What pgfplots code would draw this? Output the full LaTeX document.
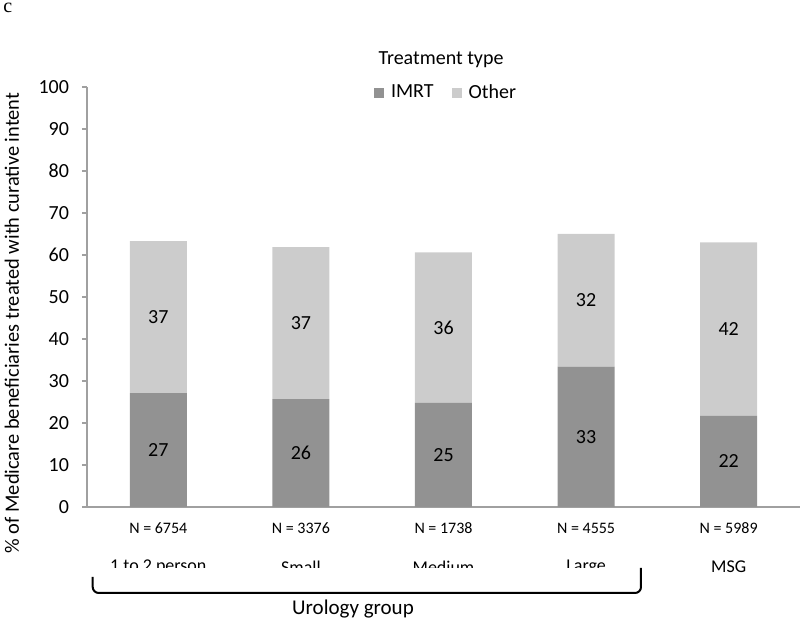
\documentclass[border=0pt]{standalone}
\usepackage{pgfplots}
\pgfplotsset{compat=1.18}
\usepackage{fontspec}
\setmainfont{Carlito}
\newfontfamily\seriffont{Liberation Serif}
\definecolor{imrt}{RGB}{146,146,146}
\definecolor{other}{RGB}{204,204,204}
\definecolor{axisgray}{RGB}{160,160,160}
\begin{document}
\begin{tikzpicture}
\useasboundingbox (-43.5pt,-56pt) rectangle (356.5pt,253.5pt);
\begin{axis}[
  at={(0pt,0pt)}, anchor=south west,
  scale only axis, width=356.5pt, height=210pt,
  ymin=0, ymax=100, xmin=-0.5, xmax=4.5,
  ybar stacked, bar width=28.5pt,
  axis x line*=bottom, axis y line*=left,
  axis line style={draw=axisgray, line width=0.6pt},
  ytick={0,10,...,100},
  ytick style={draw=axisgray, line width=0.6pt},
  tick align=outside, major tick length=2.5pt,
  yticklabel style={font=\fontsize{10}{12}\selectfont, xshift=-3pt},
  /pgf/number format/assume math mode=true,
  xtick={0,1,2,3,4},
  xtick style={draw=none},
  xticklabels={N = 6754, N = 3376, N = 1738, N = 4555, N = 5989},
  xticklabel style={font=\fontsize{8}{9}\selectfont, anchor=center, yshift=-8pt},
  extra x ticks={0,1,2,3,4},
  extra x tick labels={1 to 2 person, Small, Medium, Large, MSG},
  extra x tick style={xtick style={draw=none}, xticklabel style={font=\fontsize{9}{10}\selectfont, anchor=center, yshift=-19.5pt}},
  ylabel={\% of Medicare beneficiaries treated with curative intent},
  every axis y label/.style={at={(rel axis cs:-0.1052,0.438)}, rotate=90, anchor=center, font=\fontsize{10.2}{12}\selectfont},
  legend style={at={(rel axis cs:0.505,0.986)}, anchor=center, legend columns=2, draw=none, fill=none,
    font=\fontsize{10}{12}\selectfont,
    /tikz/every even column/.append style={column sep=7pt}},
  legend image code/.code={\fill[#1] (0pt,-2.5pt) rectangle (5pt,2.5pt);},
  clip=false,
]
\addplot[fill=imrt, draw=none] coordinates {(0,27.1) (1,25.7) (2,24.8) (3,33.4) (4,21.7)};
\addlegendentry{\hspace{1.5pt}IMRT}
\addplot[fill=other, draw=none] coordinates {(0,36.2) (1,36.2) (2,35.8) (3,31.6) (4,41.3)};
\addlegendentry{\hspace{1.5pt}Other}
\node[font=\fontsize{10}{12}\selectfont] at (rel axis cs:0.4965,1.064) {Treatment type};
\end{axis}
\begin{axis}[
  at={(0pt,0pt)}, anchor=south west,
  scale only axis, width=356.5pt, height=210pt,
  ymin=0, ymax=100, xmin=-0.5, xmax=4.5,
  hide axis,
]
\addplot[only marks, mark=none, nodes near coords, point meta=explicit symbolic,
  every node near coord/.style={anchor=center, font=\fontsize{10}{12}\selectfont}]
  coordinates {(0,13.55)[27] (1,12.85)[26] (2,12.4)[25] (3,16.7)[33] (4,10.85)[22]
               (0,45.2)[37] (1,43.8)[37] (2,42.7)[36] (3,49.2)[32] (4,42.35)[42]};
\end{axis}
\fill[white] (6.5pt,-30.5pt) rectangle (274pt,-40pt);
\draw[line width=1pt, rounded corners=3pt] (2.85pt,-35pt) -- (2.85pt,-43pt) -- (277pt,-43pt) -- (277pt,-30.5pt);
\node[font=\fontsize{10.5}{12}\selectfont] at (133pt,-51pt) {Urology group};
\node[anchor=base west, font=\seriffont\fontsize{10}{12}\selectfont, inner sep=0pt] at (-42pt,247pt) {c};
\end{tikzpicture}
\end{document}
